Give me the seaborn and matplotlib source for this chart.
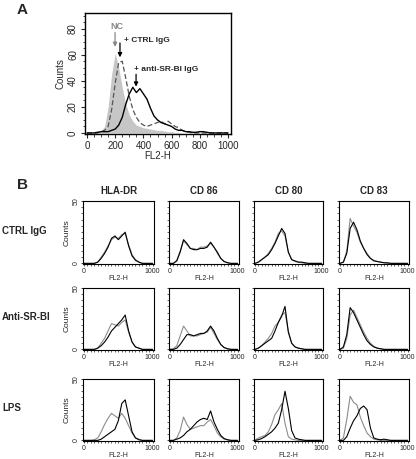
import matplotlib
matplotlib.use('Agg')
import matplotlib.pyplot as plt
from matplotlib.ticker import MultipleLocator
import seaborn as sns

sns.set_style("ticks")
plt.rcParams['font.family'] = ['Liberation Sans', 'DejaVu Sans']

# ----- Panel A data (FL2-H channel, step 25) -----
fl2_a = list(range(0, 1001, 25))
nc_a = [0, 0, 0, 0.5, 1.5, 5, 20, 45, 61, 50, 35, 22, 14, 9, 6, 5, 4, 3.5, 3, 2.5,
        2, 2, 1.5, 1, 1, 0.5, 0.5, 0, 0, 0, 0, 0, 0, 0, 0, 0, 0, 0, 0, 0, 0]
ctrl_a = [0, 0, 0, 0, 1, 2, 5, 18, 38, 54, 55, 42, 28, 18, 12, 8, 6, 5, 6, 7,
          8, 9, 7, 9, 7, 5, 4, 2, 1, 0.5, 0, 0, 0, 0, 0, 0, 0, 0, 0, 0, 0]
anti_a = [0, 0, 0, 0.5, 1, 1, 1, 2, 3, 6, 12, 22, 30, 35, 31, 34, 30, 26, 19, 13,
          10, 8, 7, 6, 5, 3, 2, 2, 1, 1, 0.5, 0.5, 1, 1, 0.5, 0, 0, 0, 0, 0, 0]

# ----- Panel B data (FL2-H channel, step 50); _k = black, _g = gray -----
fl2_b = list(range(0, 1001, 50))
markers = ["HLA-DR", "CD 86", "CD 80", "CD 83"]
conditions = ["CTRL IgG", "Anti-SR-BI", "LPS"]

hla_ctrl_k = [0, 0, 0, 0, 1, 4, 8, 13, 20, 22, 19, 22, 25, 14, 6, 2.5, 1, 0, 0, 0, 0]
hla_ctrl_g = [0, 0, 0, 0, 1, 5, 9, 14, 19, 21, 20, 23, 24, 15, 7, 3, 1, 0, 0, 0, 0]
cd86_ctrl_k = [0, 0, 2, 9, 19, 16, 12, 11, 11, 12, 12, 13, 17, 13, 9, 4, 1.5, 0.5, 0, 0, 0]
cd86_ctrl_g = [0, 0, 2.5, 10, 18, 15, 12, 12, 11, 13, 13, 14, 16, 13, 8, 4, 1.5, 0.5, 0, 0, 0]
cd80_ctrl_k = [0, 1, 3, 5, 7, 11, 16, 22, 28, 24, 9, 3, 2, 1, 1, 0.5, 0, 0, 0, 0, 0]
cd80_ctrl_g = [0, 1, 3, 5, 8, 12, 17, 24, 26, 22, 9, 3, 1.5, 1, 0.5, 0, 0, 0, 0, 0, 0]
cd83_ctrl_k = [0, 1, 8, 28, 33, 27, 18, 12, 7, 4, 2, 1.5, 1, 0.5, 0.5, 0, 0, 0, 0, 0, 0]
cd83_ctrl_g = [0, 1, 10, 36, 30, 25, 17, 12, 8, 4, 2.5, 1.5, 1, 0.5, 0, 0, 0, 0, 0, 0, 0]

hla_anti_k = [0, 0, 0, 0, 1, 3, 6, 10, 15, 18, 21, 24, 28, 15, 6, 2, 1, 0, 0, 0, 0]
hla_anti_g = [0, 0, 0, 0, 1, 5, 9, 15, 21, 20, 19, 22, 24, 14, 6, 2, 1, 0, 0, 0, 0]
cd86_anti_k = [0, 0, 1, 4, 8, 12, 12, 11, 12, 13, 13, 15, 19, 15, 9, 4, 1.5, 0.5, 0, 0, 0]
cd86_anti_g = [0, 0.5, 3, 11, 19, 15, 11, 11, 11, 12, 13, 14, 18, 13, 8, 4, 1.5, 0.5, 0, 0, 0]
cd80_anti_k = [0, 1, 3, 5, 7, 9, 15, 22, 27, 35, 14, 5, 2, 1, 0.5, 0, 0, 0, 0, 0, 0]
cd80_anti_g = [0, 1, 3, 6, 9, 13, 19, 22, 28, 30, 15, 5, 2, 1, 0.5, 0, 0, 0, 0, 0, 0]
cd83_anti_k = [0, 2, 12, 34, 30, 24, 18, 12, 7, 4, 2, 1, 0.5, 0, 0, 0, 0, 0, 0, 0, 0]
cd83_anti_g = [0, 1, 9, 28, 32, 26, 20, 14, 9, 5, 2.5, 1, 0.5, 0, 0, 0, 0, 0, 0, 0, 0]

hla_lps_k = [0, 0, 0, 0, 0, 1, 3, 5, 7, 9, 16, 30, 33, 20, 7, 2, 0.5, 0, 0, 0, 0]
hla_lps_g = [0, 0, 0, 0.5, 2, 7, 13, 18, 22, 20, 18, 22, 18, 12, 6, 2, 1, 0, 0, 0, 0]
cd86_lps_k = [0, 0, 1, 2, 4, 7, 9, 12, 15, 17, 18, 17, 24, 15, 9, 4, 1.5, 0.5, 0, 0, 0]
cd86_lps_g = [0, 0, 2, 8, 19, 13, 9, 10, 11, 12, 12, 15, 17, 12, 6, 3, 1, 0.5, 0, 0, 0]
cd80_lps_k = [0, 0.5, 1.5, 3, 5, 7, 10, 14, 25, 40, 26, 8, 2, 1, 0.5, 0, 0, 0, 0, 0, 0]
cd80_lps_g = [0, 2, 3, 4, 7, 13, 21, 25, 30, 14, 3, 1, 0.5, 0, 0, 0, 0, 0, 0, 0, 0]
cd83_lps_k = [0, 0, 3, 10, 16, 20, 26, 28, 25, 10, 2, 1, 0.5, 1, 0.5, 0, 0, 0, 0, 0, 0]
cd83_lps_g = [0, 2, 17, 36, 31, 29, 19, 12, 6, 3, 1, 0.5, 0, 0, 0, 0, 0, 0, 0, 0, 0]

grid_b = [
    [(hla_ctrl_k, hla_ctrl_g), (cd86_ctrl_k, cd86_ctrl_g), (cd80_ctrl_k, cd80_ctrl_g), (cd83_ctrl_k, cd83_ctrl_g)],
    [(hla_anti_k, hla_anti_g), (cd86_anti_k, cd86_anti_g), (cd80_anti_k, cd80_anti_g), (cd83_anti_k, cd83_anti_g)],
    [(hla_lps_k, hla_lps_g), (cd86_lps_k, cd86_lps_g), (cd80_lps_k, cd80_lps_g), (cd83_lps_k, cd83_lps_g)],
]

W, H = 416, 459
fig = plt.figure(figsize=(W / 100, H / 100), dpi=100)


def rect(l, t, r, b):
    # pixel box -> figure fraction
    return [l / W, 1 - b / H, (r - l) / W, (b - t) / H]


# ----- Panel A -----
ax = fig.add_axes(rect(85, 13, 231, 134))
ax.fill_between(fl2_a, nc_a, color="#c6c6c6", lw=0)
sns.lineplot(x=fl2_a, y=ctrl_a, ax=ax, color="#555555", lw=0.9, linestyle=(0, (4, 2)))
sns.lineplot(x=fl2_a, y=anti_a, ax=ax, color="black", lw=1.0)
ax.set_xlim(-14, 1021)
ax.set_ylim(-0.8, 92)
ax.set_xticks(range(0, 1001, 200))
ax.set_yticks(range(0, 81, 20))
ax.xaxis.set_minor_locator(MultipleLocator(50))
ax.yaxis.set_minor_locator(MultipleLocator(5))
ax.tick_params(which="major", direction="out", length=3, width=0.8, labelsize=7, pad=2)
ax.tick_params(which="minor", direction="out", length=1.8, width=0.6)
for lab in ax.get_yticklabels():
    lab.set_rotation(90)
    lab.set_va("center")
ax.set_xlabel("FL2-H", fontsize=7, labelpad=0)
ax.set_ylabel("Counts", fontsize=7, labelpad=2)
for s in ax.spines.values():
    s.set_linewidth(1.0)
    s.set_color("black")

arrow_kw = dict(arrowstyle="-|>", lw=0.9, mutation_scale=6, shrinkA=0, shrinkB=0)
ax.annotate("", xy=(199, 66), xytext=(199, 77), arrowprops=dict(color="#888888", **arrow_kw))
ax.text(213, 82, "NC", color="#888888", fontsize=6.5, fontweight="bold", ha="center", va="center")
ax.annotate("", xy=(234, 58), xytext=(234, 69), arrowprops=dict(color="black", **arrow_kw))
ax.text(262, 71, "+ CTRL IgG", fontsize=6, fontweight="bold", ha="left", va="center")
ax.annotate("", xy=(348, 35.5), xytext=(348, 45), arrowprops=dict(color="black", **arrow_kw))
ax.text(335, 48.5, "+ anti-SR-BI IgG", fontsize=6, fontweight="bold", ha="left", va="center")

fig.text(17 / W, 1 - 10 / H, "A", fontsize=11, fontweight="bold", ha="left", va="center")

# ----- Panel B -----
fig.text(17 / W, 1 - 185 / H, "B", fontsize=11, fontweight="bold", ha="left", va="center")
col_px = [(83, 154), (169, 239), (254, 323), (339, 409)]
row_px = [(201, 264), (288, 350), (379, 441)]

for i, cond in enumerate(conditions):
    t, b = row_px[i]
    fig.text(2 / W, 1 - ((t + b) / 2 - 2) / H, cond, fontsize=7, fontweight="bold", ha="left", va="center")
    for j, mk in enumerate(markers):
        l, r = col_px[j]
        axb = fig.add_axes(rect(l, t, r, b))
        black, gray = grid_b[i][j]
        sns.lineplot(x=fl2_b, y=gray, ax=axb, color="#8c8c8c", lw=0.8)
        sns.lineplot(x=fl2_b, y=black, ax=axb, color="black", lw=0.8)
        axb.set_xlim(-15, 1020)
        axb.set_ylim(-0.5, 50)
        axb.set_xticks([0, 1000])
        axb.set_yticks([0, 50])
        axb.xaxis.set_minor_locator(MultipleLocator(50))
        axb.yaxis.set_minor_locator(MultipleLocator(5))
        axb.tick_params(which="major", direction="out", length=1.6, width=0.6, labelsize=5, pad=1)
        axb.tick_params(which="minor", direction="out", length=1.1, width=0.5)
        axb.set_xlabel("FL2-H", fontsize=5, labelpad=0.5)
        if j == 0:
            for lab in axb.get_yticklabels():
                lab.set_rotation(90)
                lab.set_va("center")
            axb.set_ylabel("Counts", fontsize=6, labelpad=1)
        else:
            axb.set_yticklabels([])
            axb.set_ylabel("")
        for s in axb.spines.values():
            s.set_linewidth(0.8)
            s.set_color("black")
        if i == 0:
            axb.set_title(mk, fontsize=7, fontweight="bold", pad=5)

fig.savefig("out.png", dpi=100)
print("saved out.png")
